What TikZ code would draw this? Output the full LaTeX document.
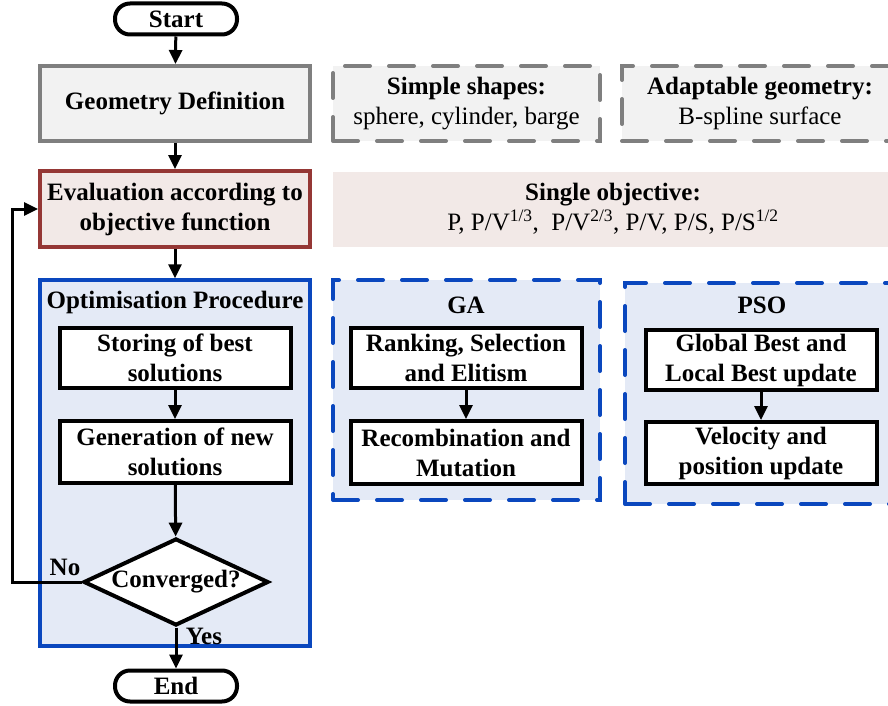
\documentclass[tikz,border=0pt]{standalone}
\usepackage{fontspec}
\setmainfont{Liberation Serif}
\usepackage{tikz}
\usetikzlibrary{arrows.meta,positioning,shapes.geometric}
\definecolor{GreyLine}{HTML}{7F7F7F}
\definecolor{GreyFill}{HTML}{F2F2F2}
\definecolor{RedLine}{HTML}{953735}
\definecolor{RoseFill}{HTML}{F2E9E7}
\definecolor{BlueLine}{HTML}{0A47BE}
\definecolor{BlueFill}{HTML}{E4EAF6}

\begin{document}
\begin{tikzpicture}[x=1pt,y=-1pt,
    >={Triangle[length=14pt,width=13pt]},
    font=\fontsize{25}{30}\selectfont,
    arrow/.style={->,line width=3pt},
    terminal/.style={draw,line width=4pt,rounded corners=15pt,fill=white,
      minimum width=122pt,minimum height=31pt,inner sep=0pt,font=\fontsize{25}{30}\selectfont\bfseries},
    mainbox/.style={line width=4pt,minimum width=270pt,minimum height=75pt,
      align=center,inner sep=0pt,font=\fontsize{25}{30}\selectfont\bfseries},
    infobox/.style={minimum height=75pt,align=center,inner sep=0pt},
    frame/.style={draw=BlueLine,fill=BlueFill,line width=3.5pt,inner sep=0pt},
    dashframe/.style={line width=4pt,line cap=round,dash pattern=on 25pt off 19pt,inner sep=0pt},
    stepbox/.style={draw,fill=white,line width=4pt,minimum width=231pt,minimum height=60pt,
      align=center,inner sep=0pt,font=\fontsize{25}{30}\selectfont\bfseries},
    caption/.style={font=\fontsize{25}{30}\selectfont\bfseries,inner sep=0pt}]
  \useasboundingbox (0,0) rectangle (888,706);

  \node[terminal] (start) at (176,19) {Start};
  \node[mainbox,draw=GreyLine,fill=GreyFill] (geom) at (175,103.5) {Geometry Definition};
  \node[mainbox,draw=RedLine,fill=RoseFill,minimum height=76pt] (eval) at (175,209)
    {Evaluation according to\\objective function};
  \node[frame,minimum width=270pt,minimum height=366pt] (opt) at (175,463) {};
  \node[caption] (opttitle) at (175,302) {Optimisation Procedure};
  \node[stepbox] (store) at (175,358) {Storing of best\\solutions};
  \node[stepbox,minimum height=62pt] (gen) at (175,452) {Generation of new\\solutions};
  \node[diamond,draw,fill=white,line width=4pt,minimum width=185pt,minimum height=87pt,
        aspect=2.1,inner sep=0pt,font=\fontsize{25}{30}\selectfont\bfseries] (conv) at (176,582) {Converged?};
  \node[terminal] (end) at (176,686) {End};
  \node[caption] (no) at (65,567) {No};
  \node[caption] (yes) at (204,636) {Yes};
  \coordinate (loop) at (12,582);

  \node[infobox,dashframe,draw=GreyLine,fill=GreyFill,minimum width=267pt] (simple) at (466.5,103.5)
    {\textbf{Simple shapes:}\\sphere, cylinder, barge};
  \node[infobox,dashframe,draw=GreyLine,fill=GreyFill,minimum width=276pt] (adapt) at (760,103.5)
    {\textbf{Adaptable geometry:}\\B-spline surface};
  \node[infobox,fill=RoseFill,minimum width=560pt] (single) at (613,209)
    {\textbf{Single objective:}\\P, P/V\textsuperscript{1/3}, ~P/V\textsuperscript{2/3}, P/V, P/S, P/S\textsuperscript{1/2}};

  \node[frame,dashframe,minimum width=267pt,minimum height=220pt] (ga) at (466.5,390) {};
  \node[caption] (gatitle) at (466,305) {GA};
  \node[stepbox] (rank) at (466,358) {Ranking, Selection\\and Elitism};
  \node[stepbox,minimum height=63pt] (recomb) at (466,452.5) {Recombination and\\Mutation};

  \node[frame,dashframe,minimum width=274pt,minimum height=221pt] (pso) at (762,393.5) {};
  \node[caption] (psotitle) at (762,305) {PSO};
  \node[stepbox] (global) at (761,360) {Global Best and\\Local Best update};
  \node[stepbox,minimum height=62pt] (veloc) at (761,453) {Velocity and\\position update};

  \draw[arrow] (start) -- (geom);
  \draw[arrow] (geom) -- (eval);
  \draw[arrow] (eval) -- (opt.north);
  \draw[arrow] (store) -- (gen);
  \draw[arrow] (gen) -- (conv);
  \draw[arrow] (conv) -- (end);
  \draw[arrow] (conv.west) -- (loop) |- (eval.west);
  \draw[arrow] (rank) -- (recomb);
  \draw[arrow] (global) -- (veloc);
\end{tikzpicture}
\end{document}
